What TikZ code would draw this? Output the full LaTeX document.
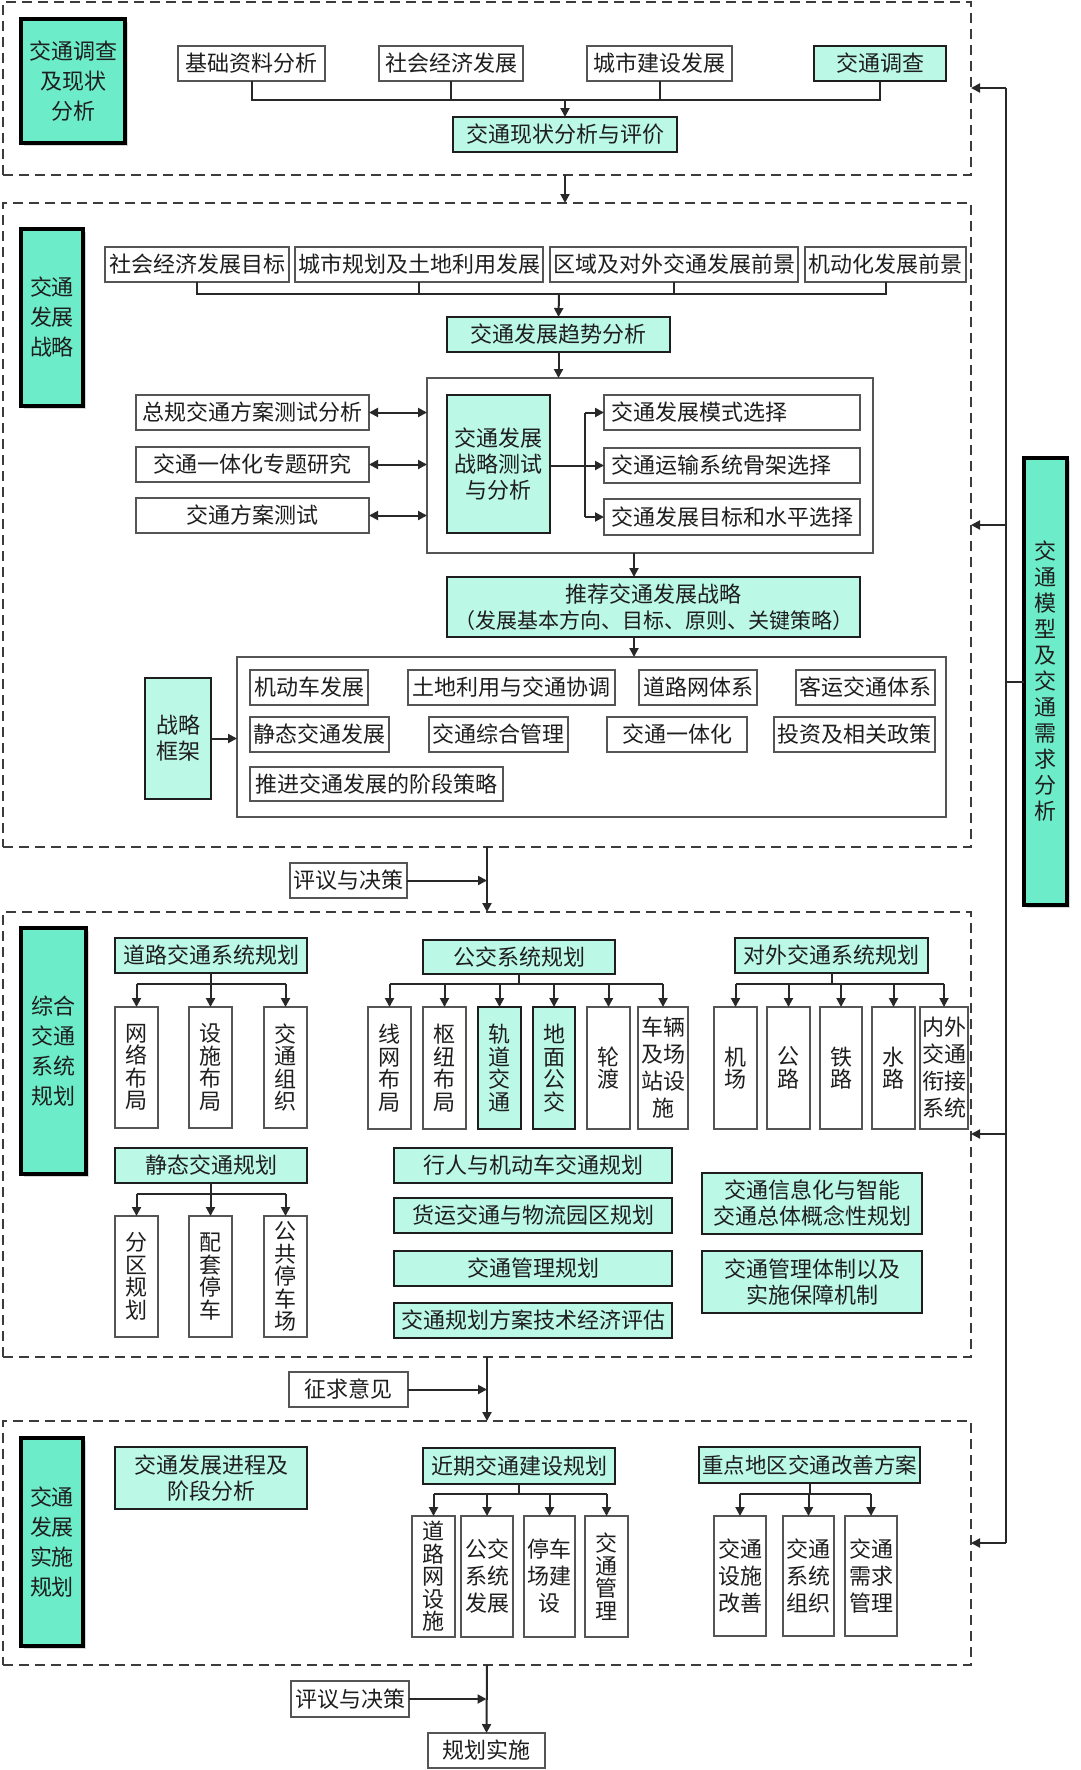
\documentclass[tikz,border=0pt]{standalone}
\usepackage{fontspec}
\newfontfamily\cjk{Noto Sans CJK SC}
\usetikzlibrary{arrows.meta}
\usetikzlibrary{shadows}

\definecolor{labfill}{RGB}{108,236,200}
\definecolor{mint}{RGB}{188,248,230}
\definecolor{txt}{RGB}{30,30,30}
\definecolor{wline}{RGB}{85,85,85}
\definecolor{dline}{RGB}{60,60,60}
\definecolor{cline}{RGB}{40,40,40}

% caixa por cantos: [extra]{estilo}{nome}{x1}{y1}{x2}{y2}
\newcommand{\boxnode}[7][]{\node[#2,minimum width={#6-#4},minimum height={#7-#5},#1] (#3) at ({(#4+#6)/2},{(#5+#7)/2})}

\tikzset{
  boxbase/.style={inner sep=0pt, outer sep=0pt, align=center, text=txt, font=\cjk\fontsize{22}{26}\selectfont},
  wbox/.style={boxbase, draw=wline, line width=1.5pt, fill=white},
  mbox/.style={boxbase, draw=txt, line width=2.5pt, fill=mint},
  lbox/.style={boxbase, draw=black, line width=3.5pt, fill=labfill, font=\cjk\fontsize{22}{30}\selectfont,
    drop shadow={shadow xshift=3pt, shadow yshift=-3pt, opacity=.3}},
  vt/.style={font=\cjk\fontsize{22}{22.5}\selectfont},
  vtt/.style={font=\cjk\fontsize{22}{27}\selectfont},
  grp/.style={draw=wline, line width=1.5pt, inner sep=0pt, outer sep=0pt},
  sect/.style={draw=dline, line width=2.5pt, dash pattern=on 10pt off 6pt, inner sep=0pt, outer sep=0pt},
  conn/.style={draw=cline, line width=2pt},
}

\begin{document}
\begin{tikzpicture}[x=1pt, y=-1pt, >={Triangle[length=9pt,width=9pt]}]

    \fill[white] (0,0) rectangle (1080,1770);
    \useasboundingbox (0,0) rectangle (1080,1770);

    % Blocos tracejados
    \boxnode{sect}{s1}{3}{2}{971}{175}{};
    \boxnode{sect}{s2}{3}{203}{971}{847}{};
    \boxnode{sect}{s3}{3}{912}{971}{1357}{};
    \boxnode{sect}{s4}{3}{1421}{971}{1665}{};

    % Bloco 1
    \boxnode{lbox}{lab1}{21}{19}{125}{143}{交通调查\\及现状\\分析};
    \boxnode{wbox}{jczl}{178}{46}{325}{81}{基础资料分析};
    \boxnode{wbox}{shjj}{379}{46}{523}{81}{社会经济发展};
    \boxnode{wbox}{csjs}{587}{46}{732}{81}{城市建设发展};
    \boxnode{mbox}{jtdc}{814}{46}{946}{81}{交通调查};
    \boxnode{mbox}{xzpj}{453}{117}{677}{152}{交通现状分析与评价};

    \coordinate (b1) at (565,100);
    \draw[conn] (jczl.south) -- (jczl.south |- b1) -- (jtdc.south |- b1) -- (jtdc.south);
    \draw[conn] (shjj.south) -- (shjj.south |- b1);
    \draw[conn] (csjs.south) -- (csjs.south |- b1);
    \draw[conn,->] (b1) -- (xzpj.north);
    \draw[conn,->] (xzpj.south |- s1.south) -- (xzpj.south |- s2.north);

    % Bloco 2
    \boxnode{lbox}{lab2}{21}{229}{83}{406}{交通\\发展\\战略};
    \boxnode{wbox}{qj1}{105}{247}{289}{282}{社会经济发展目标};
    \boxnode{wbox}{qj2}{295}{247}{543}{282}{城市规划及土地利用发展};
    \boxnode{wbox}{qj3}{550}{247}{798}{282}{区域及对外交通发展前景};
    \boxnode{wbox}{qj4}{805}{247}{966}{282}{机动化发展前景};
    \boxnode{mbox}{qsfx}{447}{317}{670}{352}{交通发展趋势分析};

    \coordinate (b2) at (559,294);
    \draw[conn] (qj1.south) -- (qj1.south |- b2) -- (qj4.south |- b2) -- (qj4.south);
    \draw[conn] (qj2.south) -- (qj2.south |- b2);
    \draw[conn] (qj3.south) -- (qj3.south |- b2);
    \draw[conn,->] (b2) -- (qsfx.north);

    % Teste da estrategia
    \boxnode{grp}{zlk}{427}{378}{873}{553}{};
    \boxnode{mbox}{csfx}{447}{395}{550}{533}{交通发展\\战略测试\\与分析};
    \boxnode[text width=242, align=left]{wbox}{ms1}{604}{395}{860}{430}{交通发展模式选择};
    \boxnode[text width=242, align=left]{wbox}{ms2}{604}{448}{860}{483}{交通运输系统骨架选择};
    \boxnode[text width=242, align=left]{wbox}{ms3}{604}{499}{860}{535}{交通发展目标和水平选择};
    \boxnode{wbox}{lt1}{136}{395}{369}{430}{总规交通方案测试分析};
    \boxnode{wbox}{lt2}{136}{447}{369}{482}{交通一体化专题研究};
    \boxnode{wbox}{lt3}{136}{498}{369}{533}{交通方案测试};

    \draw[conn,->] (qsfx.south) -- (qsfx.south |- zlk.north);
    \draw[conn,<->] (lt1.east) -- (lt1.east -| zlk.west);
    \draw[conn,<->] (lt2.east) -- (lt2.east -| zlk.west);
    \draw[conn,<->] (lt3.east) -- (lt3.east -| zlk.west);
    \coordinate (sp) at (585,465);
    \draw[conn,->] (csfx.east |- ms2.west) -- (ms2.west);
    \draw[conn] (ms1.west -| sp) -- (ms3.west -| sp);
    \draw[conn,->] (ms1.west -| sp) -- (ms1.west);
    \draw[conn,->] (ms3.west -| sp) -- (ms3.west);

    % Estrategia recomendada e quadro
    \boxnode{mbox}{tj}{447}{577}{860}{637}{推荐交通发展战略\\{\fontsize{21}{26}\selectfont （发展基本方向、目标、原则、关键策略）}};
    \boxnode{grp}{kj}{237}{657}{946}{817}{};
    \boxnode{mbox}{zk}{145}{678}{211}{799}{战略\\框架};
    \boxnode{wbox}{k1}{250}{670}{368}{705}{机动车发展};
    \boxnode{wbox}{k2}{408}{670}{615}{705}{土地利用与交通协调};
    \boxnode{wbox}{k3}{639}{670}{757}{705}{道路网体系};
    \boxnode{wbox}{k4}{796}{670}{935}{705}{客运交通体系};
    \boxnode{wbox}{k5}{250}{717}{389}{752}{静态交通发展};
    \boxnode{wbox}{k6}{429}{717}{568}{752}{交通综合管理};
    \boxnode{wbox}{k7}{607}{717}{747}{752}{交通一体化};
    \boxnode{wbox}{k8}{774}{717}{935}{752}{投资及相关政策};
    \boxnode{wbox}{k9}{250}{767}{503}{801}{推进交通发展的阶段策略};

    \coordinate (a2) at (634,0);
    \draw[conn,->] (zlk.south -| a2) -- (tj.north -| a2);
    \draw[conn,->] (tj.south -| a2) -- (kj.north -| a2);
    \draw[conn,->] (zk.east) -- (zk.east -| kj.west);

    % Avaliacao 1
    \boxnode{wbox}{py1}{290}{863}{407}{898}{评议与决策};
    \draw[conn,->] (s2.south) -- (s3.north);
    \draw[conn,->] (py1.east) -- (py1.east -| s3.north);

    % Bloco 3
    \boxnode{lbox}{lab3}{21}{928}{86}{1174}{综合\\交通\\系统\\规划};
    \coordinate (b3) at (0,984);
    \coordinate (b4) at (0,1194);

    % Rede viaria
    \boxnode{mbox}{dl}{115}{938}{307}{973}{道路交通系统规划};
    \boxnode[vt]{wbox}{dl1}{115}{1007}{158}{1128}{网\\络\\布\\局};
    \boxnode[vt]{wbox}{dl2}{189}{1007}{232}{1128}{设\\施\\布\\局};
    \boxnode[vt]{wbox}{dl3}{264}{1007}{307}{1128}{交\\通\\组\\织};
    \draw[conn] (dl.south) -- (dl.south |- b3);
    \draw[conn] (dl1.north |- b3) -- (dl3.north |- b3);
    \draw[conn,->] (dl1.north |- b3) -- (dl1.north);
    \draw[conn,->] (dl2.north |- b3) -- (dl2.north);
    \draw[conn,->] (dl3.north |- b3) -- (dl3.north);

    % Estacionamento
    \boxnode{mbox}{jt}{115}{1148}{307}{1183}{静态交通规划};
    \boxnode[vt]{wbox}{jt1}{115}{1216}{158}{1337}{分\\区\\规\\划};
    \boxnode[vt]{wbox}{jt2}{189}{1216}{232}{1337}{配\\套\\停\\车};
    \boxnode[vt]{wbox}{jt3}{264}{1216}{307}{1337}{公\\共\\停\\车\\场};
    \draw[conn] (jt.south) -- (jt.south |- b4);
    \draw[conn] (jt1.north |- b4) -- (jt3.north |- b4);
    \draw[conn,->] (jt1.north |- b4) -- (jt1.north);
    \draw[conn,->] (jt2.north |- b4) -- (jt2.north);
    \draw[conn,->] (jt3.north |- b4) -- (jt3.north);

    % Transporte publico
    \boxnode{mbox}{gj}{423}{940}{615}{974}{公交系统规划};
    \boxnode[vt]{wbox}{gj1}{368}{1007}{411}{1129}{线\\网\\布\\局};
    \boxnode[vt]{wbox}{gj2}{423}{1007}{466}{1129}{枢\\纽\\布\\局};
    \boxnode[vt]{mbox}{gj3}{478}{1007}{521}{1129}{轨\\道\\交\\通};
    \boxnode[vt]{mbox}{gj4}{533}{1007}{575}{1129}{地\\面\\公\\交};
    \boxnode[vt]{wbox}{gj5}{587}{1007}{630}{1129}{轮\\渡};
    \boxnode[vtt]{wbox}{gj6}{638}{1007}{688}{1129}{车辆\\及场\\站设\\施};
    \draw[conn] (gj.south) -- (gj.south |- b3);
    \draw[conn] (gj1.north |- b3) -- (gj6.north |- b3);
    \draw[conn,->] (gj1.north |- b3) -- (gj1.north);
    \draw[conn,->] (gj2.north |- b3) -- (gj2.north);
    \draw[conn,->] (gj3.north |- b3) -- (gj3.north);
    \draw[conn,->] (gj4.north |- b3) -- (gj4.north);
    \draw[conn,->] (gj5.north |- b3) -- (gj5.north);
    \draw[conn,->] (gj6.north |- b3) -- (gj6.north);

    % Transporte externo
    \boxnode{mbox}{dw}{735}{938}{928}{973}{对外交通系统规划};
    \boxnode[vt]{wbox}{dw1}{714}{1007}{757}{1129}{机\\场};
    \boxnode[vt]{wbox}{dw2}{767}{1007}{810}{1129}{公\\路};
    \boxnode[vt]{wbox}{dw3}{820}{1007}{862}{1129}{铁\\路};
    \boxnode[vt]{wbox}{dw4}{872}{1007}{915}{1129}{水\\路};
    \boxnode[vtt]{wbox}{dw5}{920}{1007}{968}{1129}{内外\\交通\\衔接\\系统};
    \draw[conn] (dw.south) -- (dw.south |- b3);
    \draw[conn] (dw1.north |- b3) -- (dw5.north |- b3);
    \draw[conn,->] (dw1.north |- b3) -- (dw1.north);
    \draw[conn,->] (dw2.north |- b3) -- (dw2.north);
    \draw[conn,->] (dw3.north |- b3) -- (dw3.north);
    \draw[conn,->] (dw4.north |- b3) -- (dw4.north);
    \draw[conn,->] (dw5.north |- b3) -- (dw5.north);

    % Outros planos
    \boxnode{mbox}{xr}{394}{1148}{672}{1183}{行人与机动车交通规划};
    \boxnode{mbox}{hy}{394}{1198}{672}{1233}{货运交通与物流园区规划};
    \boxnode{mbox}{gl}{394}{1251}{672}{1286}{交通管理规划};
    \boxnode{mbox}{pg}{394}{1303}{672}{1338}{交通规划方案技术经济评估};
    \boxnode{mbox}{xx}{702}{1173}{922}{1234}{交通信息化与智能\\交通总体概念性规划};
    \boxnode{mbox}{tz}{702}{1251}{922}{1313}{交通管理体制以及\\实施保障机制};

    % Consulta
    \boxnode{wbox}{zq}{289}{1372}{408}{1407}{征求意见};
    \draw[conn,->] (s3.south) -- (s4.north);
    \draw[conn,->] (zq.east) -- (zq.east -| s4.north);

    % Bloco 4
    \boxnode{lbox}{lab4}{21}{1438}{83}{1646}{交通\\发展\\实施\\规划};
    \boxnode{mbox}{jc}{115}{1447}{307}{1509}{交通发展进程及\\阶段分析};
    \coordinate (b5) at (0,1494);

    \boxnode{mbox}{jq}{423}{1448}{615}{1484}{近期交通建设规划};
    \boxnode[vt]{wbox}{jq1}{412}{1516}{455}{1637}{道\\路\\网\\设\\施};
    \boxnode[vtt]{wbox}{jq2}{461}{1516}{513}{1637}{公交\\系统\\发展};
    \boxnode[vtt]{wbox}{jq3}{524}{1516}{575}{1637}{停车\\场建\\设};
    \boxnode[vt]{wbox}{jq4}{585}{1516}{628}{1637}{交\\通\\管\\理};
    \draw[conn] (jq.south) -- (jq.south |- b5);
    \draw[conn] (jq1.north |- b5) -- (jq4.north |- b5);
    \draw[conn,->] (jq1.north |- b5) -- (jq1.north);
    \draw[conn,->] (jq2.north |- b5) -- (jq2.north);
    \draw[conn,->] (jq3.north |- b5) -- (jq3.north);
    \draw[conn,->] (jq4.north |- b5) -- (jq4.north);

    \boxnode[font=\cjk\fontsize{21.5}{26}\selectfont]{mbox}{zd}{699}{1447}{920}{1483}{重点地区交通改善方案};
    \boxnode[vtt]{wbox}{zd1}{714}{1516}{766}{1636}{交通\\设施\\改善};
    \boxnode[vtt]{wbox}{zd2}{783}{1516}{834}{1636}{交通\\系统\\组织};
    \boxnode[vtt]{wbox}{zd3}{845}{1516}{897}{1636}{交通\\需求\\管理};
    \draw[conn] (zd.south) -- (zd.south |- b5);
    \draw[conn] (zd1.north |- b5) -- (zd3.north |- b5);
    \draw[conn,->] (zd1.north |- b5) -- (zd1.north);
    \draw[conn,->] (zd2.north |- b5) -- (zd2.north);
    \draw[conn,->] (zd3.north |- b5) -- (zd3.north);

    % Avaliacao final
    \boxnode{wbox}{py2}{291}{1681}{409}{1717}{评议与决策};
    \boxnode{wbox}{ss}{428}{1733}{545}{1768}{规划实施};
    \draw[conn,->] (s4.south) -- (ss.north);
    \draw[conn,->] (py2.east) -- (py2.east -| ss.north);

    % Modelo de demanda e retorno
    \boxnode[font=\cjk\fontsize{22}{26}\selectfont]{lbox}{mx}{1024}{458}{1067}{905}{交\\通\\模\\型\\及\\交\\通\\需\\求\\分\\析};
    \coordinate (f1) at (1006,88);
    \coordinate (f2) at (1006,525);
    \coordinate (f3) at (1006,1134);
    \coordinate (f4) at (1006,1543);
    \draw[conn] (f1) -- (f4);
    \draw[conn] (mx.west) -- (mx.west -| f1);
    \draw[conn,->] (f1) -- (f1 -| s1.east);
    \draw[conn,->] (f2) -- (f2 -| s2.east);
    \draw[conn,->] (f3) -- (f3 -| s3.east);
    \draw[conn,->] (f4) -- (f4 -| s4.east);

\end{tikzpicture}
\end{document}
